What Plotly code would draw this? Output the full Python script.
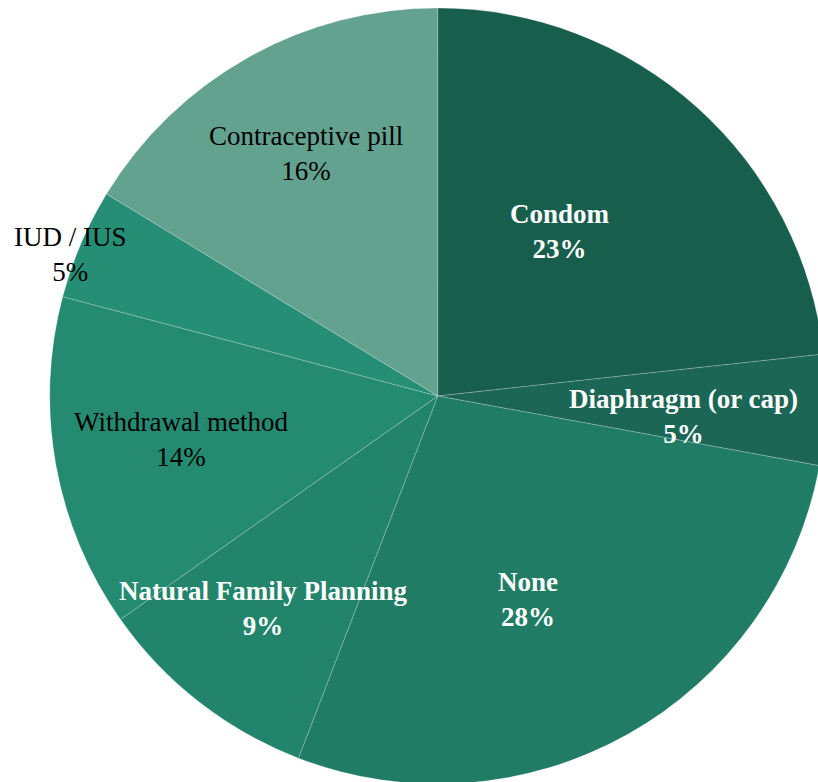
import plotly.graph_objects as go

# slices, clockwise from 12 o'clock
labels = [
    "Condom",
    "Diaphragm (or cap)",
    "None",
    "Natural Family Planning",
    "Withdrawal method",
    "IUD / IUS",
    "Contraceptive pill",
]
values = [23.3, 4.6, 28.0, 9.4, 13.9, 4.6, 16.3]
colors = ["#185e4c", "#1c6656", "#207c65", "#22846b", "#248b71", "#268e75", "#62a28f"]
bold = [True, True, True, True, False, False, False]

# label block centres, in page pixels
label_pos = [(560, 231), (683, 416), (528, 599), (263, 608), (181, 440), (70, 254), (306, 153)]

W, H = 826, 784  # slightly wider/taller than the window: pie is clipped right and bottom
FONT = "Liberation Serif"

fig = go.Figure(
    go.Pie(
        labels=labels,
        values=values,
        sort=False,
        direction="clockwise",
        rotation=0,
        marker={"colors": colors, "line": {"color": "rgba(255,255,255,0.35)", "width": 0.6}},
        textinfo="none",
        hoverinfo="label+percent",
        domain={"x": [49.5 / W, 1], "y": [0, 1 - 8 / H]},
        showlegend=False,
    )
)

total = sum(values)
annotations = []
for lab, val, b, (px, py) in zip(labels, values, bold, label_pos):
    pct = f"{round(val / total * 100)}%"
    txt = f"<b>{lab}</b><br><b>{pct}</b>" if b else f"{lab}<br>{pct}"
    annotations.append({
        "text": txt,
        "x": px / W,
        "y": 1 - py / H,
        "xref": "paper",
        "yref": "paper",
        "showarrow": False,
        "xanchor": "center",
        "yanchor": "middle",
        "align": "center",
        "font": {"family": FONT, "size": 27, "color": "white" if b else "black"},
    })

fig.update_layout(
    width=W,
    height=H,
    margin={"l": 0, "r": 0, "t": 0, "b": 0},
    paper_bgcolor="white",
    plot_bgcolor="white",
    annotations=annotations,
)

fig.write_html(
    "out.html",
    config={"displayModeBar": False},
    post_script="document.body.style.margin='0';document.body.style.overflow='hidden';"
    "document.documentElement.style.overflow='hidden';",
)
